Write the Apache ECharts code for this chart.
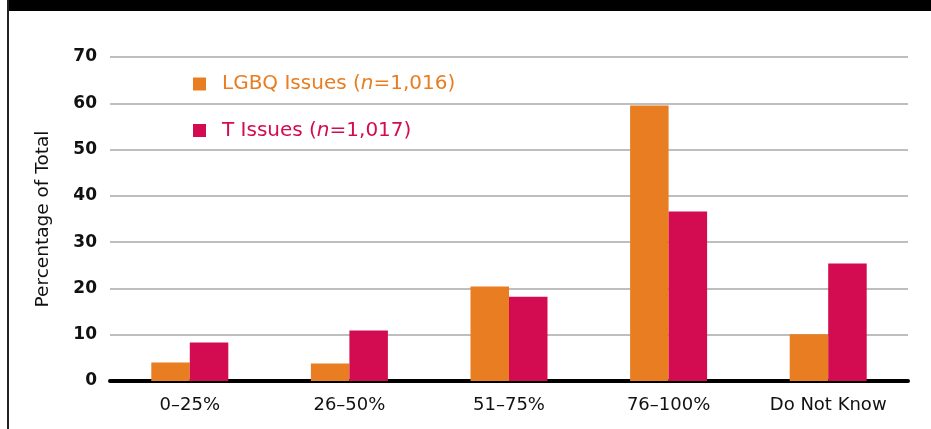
<!DOCTYPE html>
<html>
<head>
<meta charset="utf-8">
<script src="https://cdn.jsdelivr.net/npm/echarts@6/dist/echarts.min.js"></script>
<style>
  html, body { margin: 0; padding: 0; background: #fff; }
  #main { width: 931px; height: 429px; }
</style>
</head>
<body>
<div id="main"></div>
<script>
var categories = ['0–25%', '26–50%', '51–75%', '76–100%', 'Do Not Know'];
var lgbqValues = [4.0, 3.8, 20.4, 59.5, 10.1];
var tValues = [8.3, 10.9, 18.2, 36.6, 25.4];
var seriesNames = ['LGBQ Issues', 'T Issues'];
var seriesN = ['1,016', '1,017'];
var seriesColors = ['#E87D22', '#D30C52'];

var chart = echarts.init(document.getElementById('main'));

var option = {
    animation: false,
    backgroundColor: '#fff',
    graphic: [
        { type: 'rect', left: 7, top: 0, shape: { width: 924, height: 11 }, style: { fill: '#000' } },
        { type: 'rect', left: 7, top: 0, shape: { width: 2, height: 429 }, style: { fill: '#222' } }
    ],
    grid: { left: 110, right: 23, top: 57, bottom: 48, containLabel: false },
    legend: {
        orient: 'vertical',
        left: 188,
        top: 69,
        itemGap: 26.5,
        itemWidth: 13,
        itemHeight: 13,
        icon: 'rect',
        data: [
            { name: seriesNames[0], textStyle: { color: seriesColors[0] } },
            { name: seriesNames[1], textStyle: { color: seriesColors[1] } }
        ],
        formatter: function (name) {
            var i = seriesNames.indexOf(name);
            return '{a|' + name + ' (}{i|n}{a|=' + seriesN[i] + ')}';
        },
        textStyle: {
            fontFamily: 'DejaVu Sans',
            fontSize: 20,
            padding: [0, 0, 0, 11],
            rich: {
                a: { fontFamily: 'DejaVu Sans', fontSize: 20 },
                i: { fontFamily: 'DejaVu Sans', fontSize: 20, fontStyle: 'italic' }
            }
        }
    },
    xAxis: {
        type: 'category',
        data: categories,
        axisLine: { lineStyle: { color: '#000', width: 4 } },
        axisTick: { show: false },
        axisLabel: {
            color: '#111',
            fontFamily: 'DejaVu Sans',
            fontSize: 18,
            margin: 15
        }
    },
    yAxis: {
        type: 'value',
        min: 0,
        max: 70,
        interval: 10,
        name: 'Percentage of Total',
        nameLocation: 'middle',
        nameGap: 57,
        nameTextStyle: { color: '#111', fontFamily: 'DejaVu Sans', fontSize: 18.5 },
        axisLine: { show: false },
        axisTick: { show: false },
        axisLabel: {
            color: '#111',
            fontFamily: 'DejaVu Sans',
            fontWeight: 'bold',
            fontSize: 17,
            margin: 13
        },
        splitLine: { lineStyle: { color: '#a8a8a8', width: 1.5 } }
    },
    series: [
        {
            name: seriesNames[0],
            type: 'bar',
            data: lgbqValues,
            barWidth: 38.5,
            barGap: '0%',
            itemStyle: { color: seriesColors[0] }
        },
        {
            name: seriesNames[1],
            type: 'bar',
            data: tValues,
            barWidth: 38.5,
            barGap: '0%',
            itemStyle: { color: seriesColors[1] }
        }
    ]
};

chart.setOption(option);
</script>
</body>
</html>
